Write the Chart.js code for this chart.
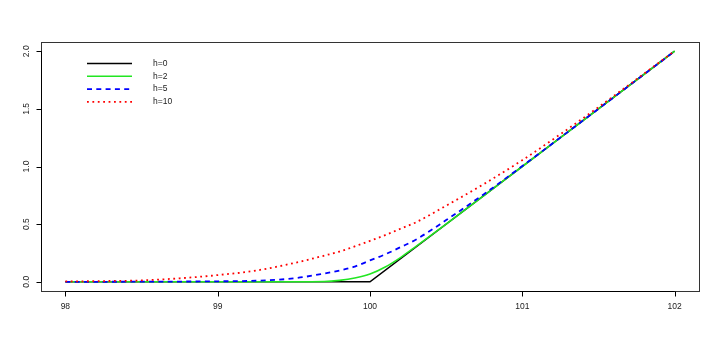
<!DOCTYPE html>
<html>
<head>
<meta charset="utf-8">
<script src="https://cdn.jsdelivr.net/npm/chart.js@4.4.1/dist/chart.umd.min.js"></script>
<style>
  html, body { margin: 0; background: #fff; }
  #wrap { width: 720px; height: 343px; }
</style>
</head>
<body>
<div id="wrap"><canvas id="grafica"></canvas></div>
<script>
// valores
const xs   = [98, 98.25, 98.5, 98.75, 99, 99.25, 99.5, 99.7, 99.8, 99.9, 100, 100.1, 100.2, 100.3, 100.5, 100.75, 101, 101.25, 101.5, 101.75, 102];
const h2   = [0, 0, 0, 0, 0, 0, 0, 0.002, 0.012, 0.032, 0.067, 0.128, 0.21, 0.305, 0.5, 0.75, 1.0, 1.25, 1.5, 1.75, 2.0];
const h5   = [0, 0, 0.001, 0.002, 0.004, 0.009, 0.03, 0.072, 0.098, 0.132, 0.185, 0.238, 0.3, 0.365, 0.535, 0.762, 1.004, 1.251, 1.5, 1.75, 2.0];
const h10  = [0.003, 0.006, 0.012, 0.03, 0.058, 0.097, 0.162, 0.227, 0.262, 0.307, 0.355, 0.405, 0.46, 0.515, 0.66, 0.85, 1.055, 1.28, 1.515, 1.757, 2.003];
const xsH0 = [98, 100, 102];
const h0   = [0, 0, 2];

const xTicks = [98, 99, 100, 101, 102];
const yTicks = [0, 0.5, 1, 1.5, 2];
const yTickLabels = ['0.0', '0.5', '1.0', '1.5', '2.0'];
const nombres = ['h=0', 'h=2', 'h=5', 'h=10'];

const pares = (x, y) => x.map((v, i) => ({ x: v, y: y[i] }));
const FUENTE = '8.5px "Liberation Sans", Arial, sans-serif';

// ejes estilo R: caja, ticks hacia fuera, etiquetas y giradas, leyenda sin marco
const ejesR = {
    id: 'ejesR',
    afterDraw(chart) {
        const ctx = chart.ctx, a = chart.chartArea;
        const sx = chart.scales.x, sy = chart.scales.y;
        ctx.save();
        ctx.strokeStyle = '#333';
        ctx.lineWidth = 1;
        ctx.strokeRect(Math.round(a.left) + 0.5, Math.round(a.top) + 0.5, Math.round(a.right - a.left), Math.round(a.bottom - a.top));

        ctx.strokeStyle = '#000';
        ctx.fillStyle = '#222';
        ctx.font = FUENTE;
        const yb = Math.round(a.bottom) + 0.5, xl = Math.round(a.left) + 0.5;

        ctx.beginPath();
        ctx.moveTo(sx.getPixelForValue(xTicks[0]), yb);
        ctx.lineTo(sx.getPixelForValue(xTicks[xTicks.length - 1]), yb);
        xTicks.forEach(v => { const p = Math.round(sx.getPixelForValue(v)) + 0.5; ctx.moveTo(p, yb); ctx.lineTo(p, yb + 5); });
        ctx.moveTo(xl, sy.getPixelForValue(yTicks[0]));
        ctx.lineTo(xl, sy.getPixelForValue(yTicks[yTicks.length - 1]));
        yTicks.forEach(v => { const p = Math.round(sy.getPixelForValue(v)) + 0.5; ctx.moveTo(xl, p); ctx.lineTo(xl - 5, p); });
        ctx.stroke();

        ctx.textAlign = 'center';
        ctx.textBaseline = 'middle';
        xTicks.forEach(v => ctx.fillText(String(v), sx.getPixelForValue(v), a.bottom + 16));
        yTicks.forEach((v, i) => {
            ctx.save();
            ctx.translate(a.left - 14, sy.getPixelForValue(v));
            ctx.rotate(-Math.PI / 2);
            ctx.fillText(yTickLabels[i], 0, 0);
            ctx.restore();
        });

        // leyenda
        ctx.textAlign = 'left';
        chart.data.datasets.forEach((d, i) => {
            const y = a.top + 21.5 + i * 12.8;
            ctx.save();
            ctx.strokeStyle = d.borderColor;
            ctx.lineWidth = d.borderWidth;
            ctx.setLineDash(d.borderDash || []);
            ctx.beginPath();
            ctx.moveTo(a.left + 46, y);
            ctx.lineTo(a.left + 91, y);
            ctx.stroke();
            ctx.restore();
            ctx.fillText(d.label, a.left + 112, y);
        });
        ctx.restore();
    }
};

new Chart(document.getElementById('grafica'), {
    type: 'line',
    data: {
        datasets: [
            { label: nombres[0], data: pares(xsH0, h0), borderColor: '#000000', borderWidth: 1.6, order: 4, tension: 0 },
            { label: nombres[1], data: pares(xs, h2), borderColor: '#22E622', borderWidth: 1.6, order: 3, cubicInterpolationMode: 'monotone' },
            { label: nombres[2], data: pares(xs, h5), borderColor: '#0000FF', borderWidth: 1.8, borderDash: [5, 4.3], order: 2, cubicInterpolationMode: 'monotone' },
            { label: nombres[3], data: pares(xs, h10), borderColor: '#FF0000', borderWidth: 1.8, borderDash: [1.8, 3.6], order: 1, cubicInterpolationMode: 'monotone' }
        ]
    },
    options: {
        responsive: true,
        maintainAspectRatio: false,
        animation: false,
        layout: { padding: { left: 41, right: 21, top: 42, bottom: 52 } },
        elements: { point: { radius: 0 }, line: { fill: false } },
        plugins: { legend: { display: false }, tooltip: { enabled: false } },
        scales: {
            x: { type: 'linear', min: 97.84, max: 102.16, display: false },
            y: { type: 'linear', min: -0.08, max: 2.08, display: false }
        }
    },
    plugins: [ejesR]
});
</script>
</body>
</html>
